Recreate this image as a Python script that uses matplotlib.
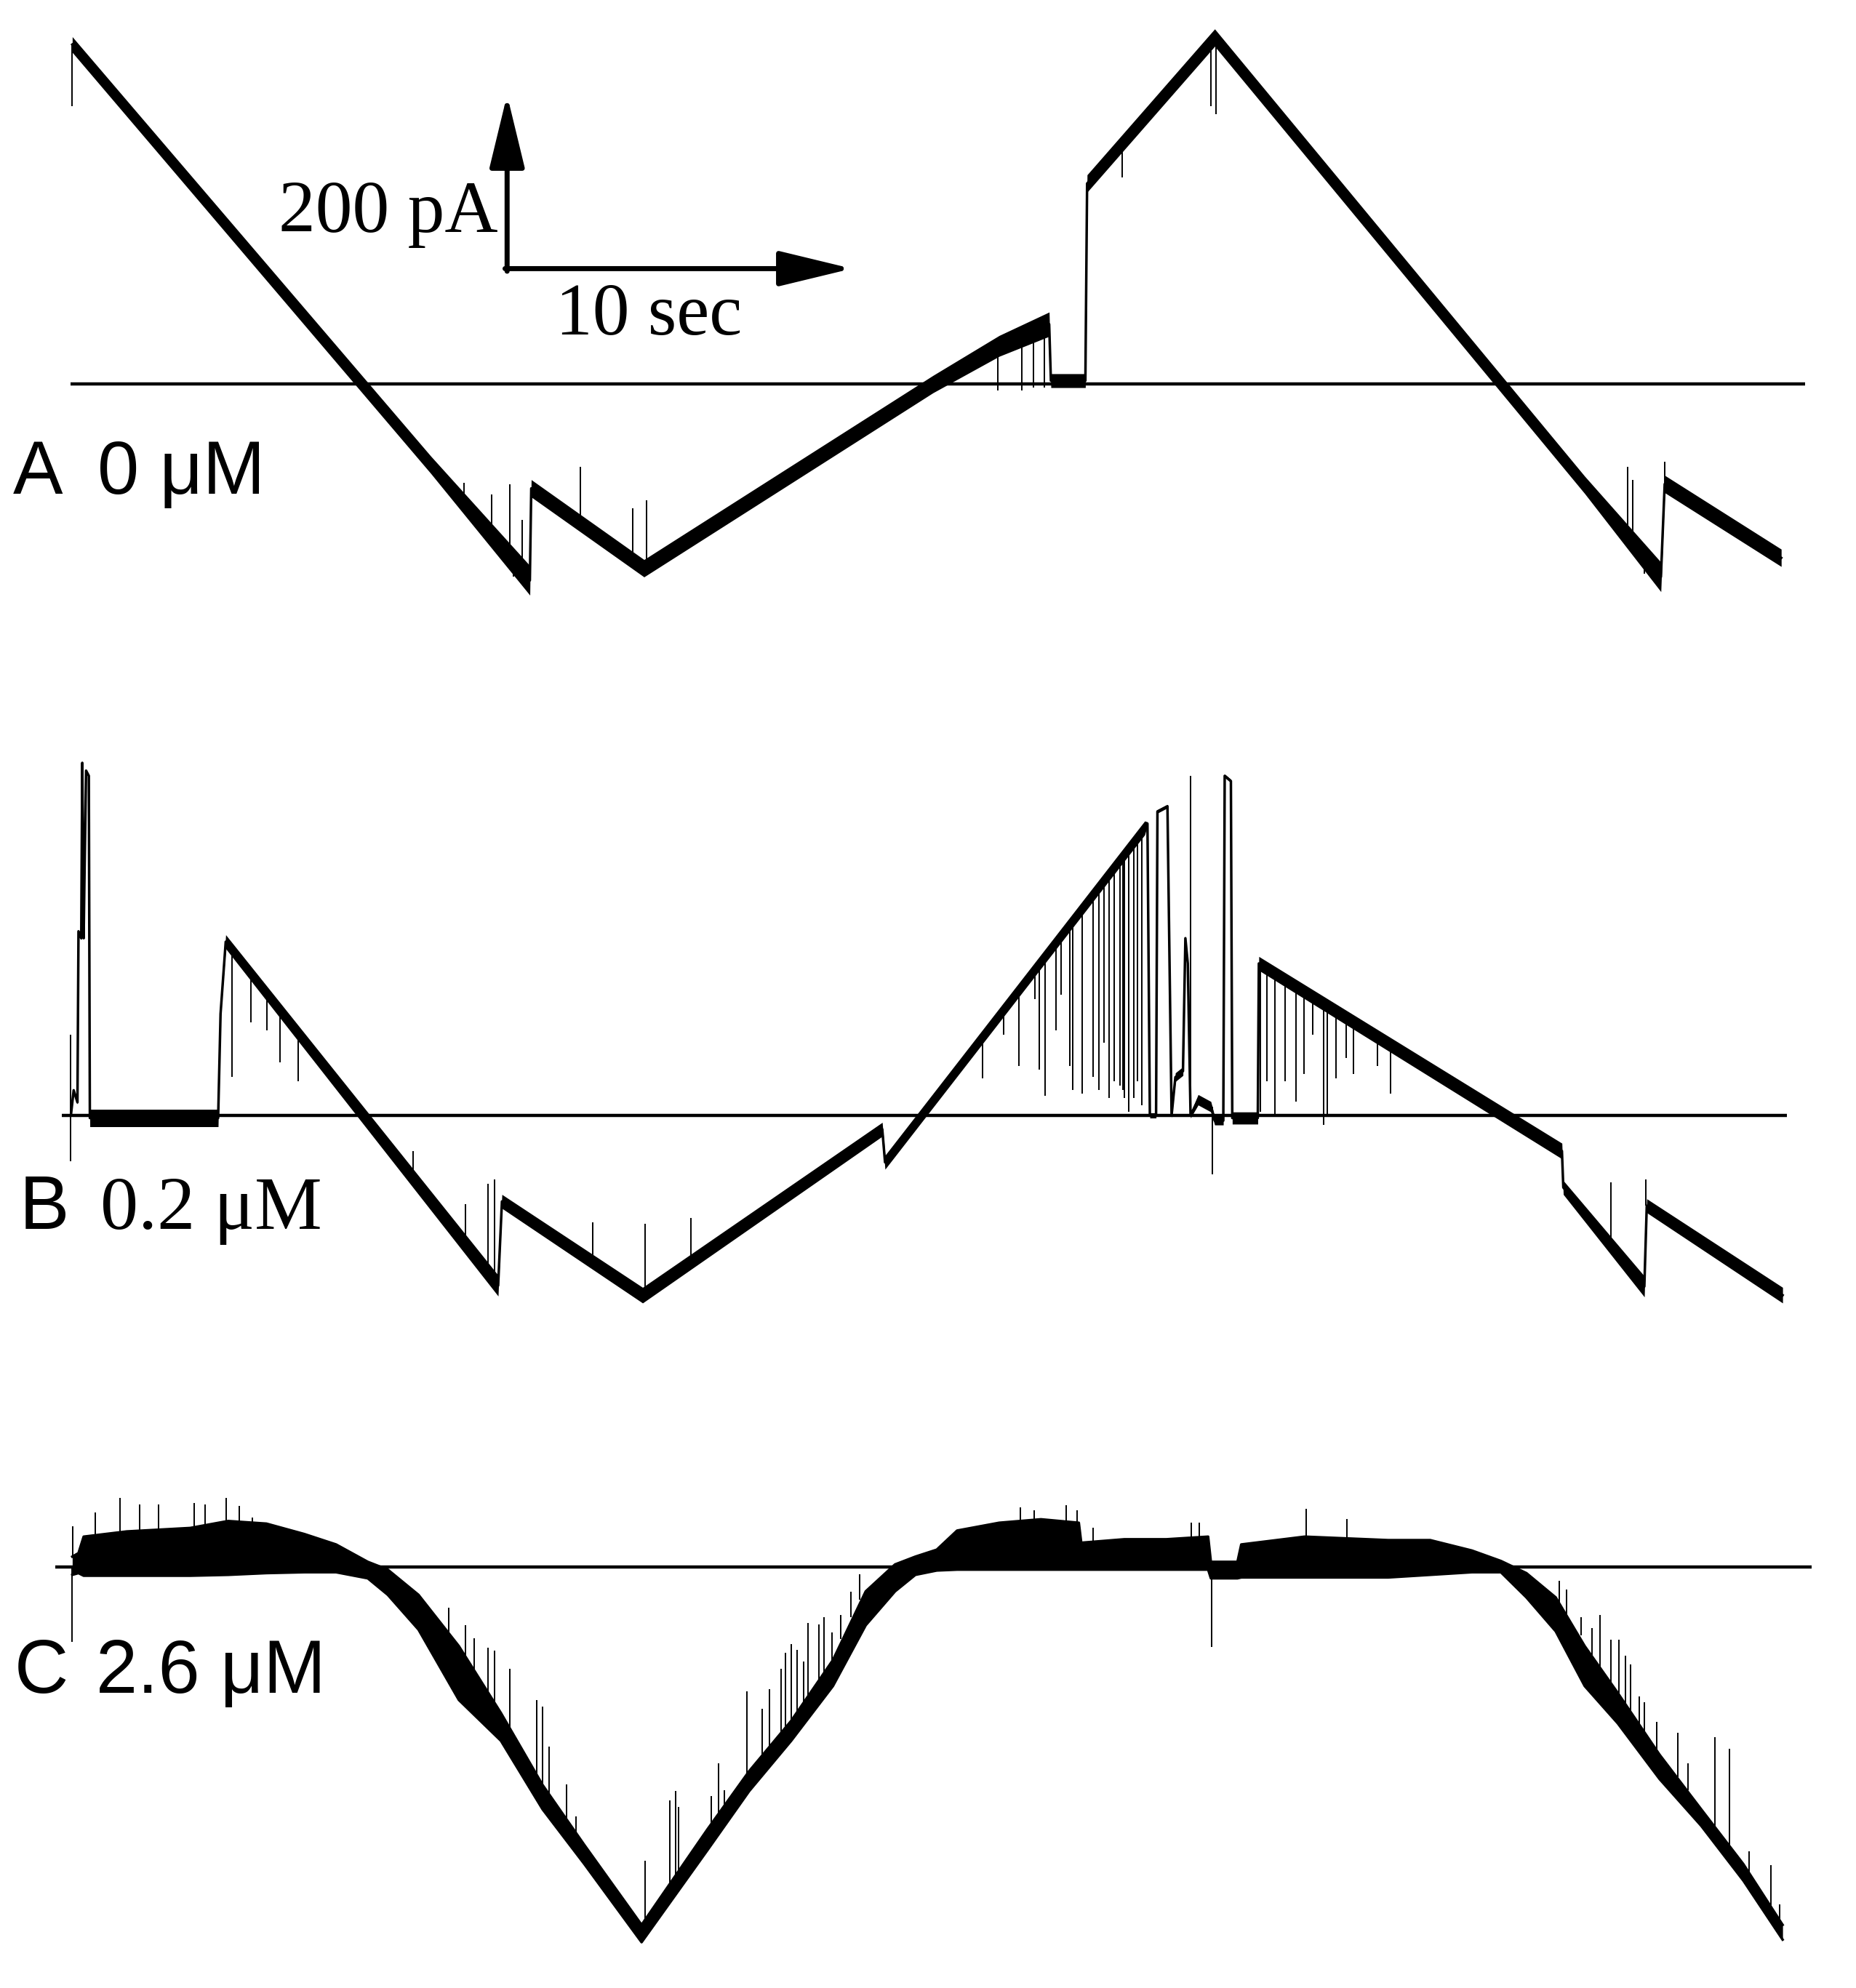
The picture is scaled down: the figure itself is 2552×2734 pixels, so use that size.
import numpy as np
import matplotlib
matplotlib.use("Agg")
import matplotlib.pyplot as plt
from matplotlib.patches import FancyArrowPatch

# time in s, current in pA (each trace relative to its own zero line)

# trace A, 0 uM
a_t = [0.00, 10.40, 13.27, 13.31, 16.58, 24.96, 26.88, 28.33, 28.38, 29.38, 29.43, 33.13, 43.86, 46.07, 46.18, 49.56]
a_i = [391, -93, -226, -120, -212, 0, 44, 69, 4, 4, 231, 399, -116, -222, -115, -200]
a_sd = [9, 10, 17, 10, 10, 10, 12, 14, 8, 8, 10, 10, 10, 17, 10, 10]

a_spk_t = [0.00, 11.36, 12.17, 12.68, 13.05, 12.79, 13.20, 14.74, 16.25, 16.65, 26.84, 27.54, 27.87,
           28.20, 30.44, 33.02, 33.16, 45.11, 45.26, 46.18, 45.60]
a_spk_from = [391, -137, -175, -199, -216, -202, -217, -160, -202, -210, 44, 55, 61,
              67, 276, 396, 397, -176, -183, -115, -204]
a_spk_to = [320, -114, -127, -115, -156, -222, -232, -95, -143, -134, -7, -7, -4,
            -4, 238, 320, 311, -95, -110, -89, -218]

# trace B, 0.2 uM
b_t = [-0.04, 0.04, 0.15, 0.18, 0.26, 0.29, 0.33, 0.35, 0.40, 0.48, 0.51, 4.23, 4.30, 4.45, 12.35,
       12.46, 16.54, 23.49, 23.57, 31.10, 31.18, 31.25, 31.43, 31.47, 31.76, 31.88, 31.99, 32.21,
       32.28, 32.35, 32.43, 32.65, 33.02, 33.13, 33.38, 33.42, 33.60, 33.64, 34.38, 34.41, 43.20,
       43.24, 45.59, 45.66, 49.60]
b_i = [0, 29, 15, 212, 204, 406, 204, 263, 397, 391, -3, -3, 117, 200, -196,
       -99, -207, -16, -54, 331, 336, 0, 0, 350, 356, 0, 44, 51,
       204, 175, 0, 18, 10, -6, -6, 391, 385, -3, -3, 175, -41,
       -83, -197, -104, -207]
b_sd = [2, 2, 2, 2, 2, 1, 1, 1, 1, 1, 10, 10, 3, 8, 12,
        8, 9, 8, 8, 8, 2, 3, 3, 2, 2, 3, 5, 5,
        3, 3, 3, 6, 6, 5, 5, 2, 2, 7, 7, 8, 9,
        8, 12, 8, 9]

b_spk_t = [-0.04, 4.63, 5.17, 5.65, 6.02, 6.56, 9.89, 11.40, 12.06, 12.24, 15.10, 16.62, 17.93,
           26.40, 27.01, 27.46, 27.92, 28.04, 28.22, 28.53, 28.68, 28.92, 29.01, 29.29, 29.60, 29.78,
           29.93, 30.06, 30.22, 30.38, 30.46, 30.52, 30.64, 30.79, 30.88, 31.01, 32.43, 33.07,
           34.46, 34.64, 34.88, 35.18, 35.49, 35.73, 35.97, 36.28, 36.40, 36.64, 36.94, 37.16,
           37.85, 38.22, 44.63, 45.64]
b_spk_from = [93, 191, 164, 140, 122, 94, -72, -147, -181, -190, -169, -205, -169,
              91, 122, 145, 169, 175, 184, 200, 207, 220, 224, 239, 255, 264,
              272, 278, 286, 294, 298, 302, 308, 315, 320, 326, 0, 10,
              174, 170, 164, 156, 149, 143, 137, 129, 126, 120, 113, 108,
              91, 82, -151, -104]
b_spk_to = [-53, 44, 107, 98, 61, 39, -41, -102, -79, -74, -123, -125, -118,
            43, 93, 57, 134, 53, 23, 98, 139, 57, 29, 25, 44, 29,
            84, 20, 39, 34, 29, 20, 4, 20, 39, 12, 391, -68,
            4, 39, 2, 39, 16, 48, 93, -11, -2, 43, 66, 48,
            57, 25, -77, -74]

# trace C, 2.6 uM (upper and lower edge of the noisy band)
c_t = [0.00, 0.18, 0.33, 1.58, 3.42, 4.52, 5.63, 6.73, 7.65, 8.57, 9.15, 10.04, 11.21, 12.43,
       13.64, 14.85, 16.51, 18.42, 19.63, 20.85, 22.06, 23.01, 23.86, 24.45, 25.07, 25.66, 26.88,
       28.09, 29.19, 29.26, 30.51, 31.73, 32.94, 33.02, 33.79, 33.90, 35.74, 38.16, 39.38, 40.59,
       41.43, 42.17, 43.02, 43.86, 44.82, 46.03, 47.24, 48.46, 49.60]
c_top = [12, 16, 35, 41, 45, 53, 50, 38, 26, 6, -3, -32, -91, -168,
         -251, -320, -412, -302, -235, -177, -107, -28, 3, 12, 20, 42, 51,
         55, 51, 28, 32, 32, 35, 6, 6, 26, 35, 31, 31, 19,
         7, -7, -35, -91, -145, -216, -279, -342, -412]
c_bot = [-9, -7, -10, -10, -10, -9, -7, -6, -6, -13, -32, -72, -153, -200,
         -279, -342, -432, -326, -258, -200, -137, -67, -28, -9, -4, -3, -3,
         -3, -3, -3, -3, -3, -3, -13, -13, -12, -12, -12, -9, -6,
         -6, -35, -74, -137, -180, -244, -298, -361, -429]

c_spk_t = [-0.01, 0.02, 0.66, 1.39, 1.95, 2.50, 3.53, 3.86, 4.47, 4.85, 5.22, 10.92, 11.40, 11.65,
           12.06, 12.24, 12.68, 13.46, 13.64, 13.82, 14.34, 14.61, 16.62, 17.32, 17.50, 17.59, 18.53,
           18.75, 18.92, 19.56, 20.00, 20.22, 20.55, 20.69, 20.85, 21.02, 21.20, 21.34, 21.65, 21.80,
           22.04, 22.28, 22.57, 22.83, 27.49, 27.90, 28.82, 29.15, 29.60, 32.46, 32.68, 33.05, 35.79,
           36.97, 43.12, 43.34, 43.75, 44.07, 44.30, 44.63, 44.85, 45.04, 45.18, 45.44, 45.60, 45.94,
           46.57, 46.85, 47.64, 48.05, 48.63, 49.27, 49.52]
c_spk_from = [0, 12, 38, 41, 42, 44, 45, 45, 53, 51, 50, -76, -102, -118,
              -145, -156, -185, -238, -251, -261, -289, -306, -406, -365, -355, -349, -296,
              -285, -275, -239, -218, -207, -191, -184, -177, -166, -156, -147, -130, -121,
              -107, -83, -58, -38, 53, 54, 53, 51, 29, 32, 34, -3, 35,
              32, -42, -57, -79, -101, -115, -134, -147, -158, -166, -181, -191, -210,
              -242, -257, -298, -320, -352, -393, -406]
c_spk_to = [-86, 47, 63, 80, 72, 72, 74, 72, 80, 70, 57, -47, -67, -82,
            -93, -96, -117, -153, -161, -207, -250, -287, -338, -269, -258, -276, -264,
            -226, -257, -143, -163, -141, -117, -99, -89, -95, -109, -64, -66, -58,
            -75, -55, -28, -8, 69, 65, 71, 65, 45, 51, 51, -92, 67,
            55, -16, -26, -58, -70, -55, -84, -84, -102, -112, -149, -156, -178,
            -191, -226, -196, -209, -327, -343, -388]

# zero lines: start/end time of each
zero_span = {"A": (-0.04, 50.26), "B": (-0.31, 49.72), "C": (-0.49, 50.44)}
offset = {"A": 0, "B": -842, "C": -1362}

fig = plt.figure(figsize=(25.52, 27.34), dpi=100)
ax = fig.add_axes([0, 0, 1, 1])
ax.set_xlim(-2.096, 51.728)
ax.set_ylim(-1846.7, 442.3)
ax.axis("off")

for key in ["A", "B", "C"]:
    ax.hlines(offset[key], zero_span[key][0], zero_span[key][1], color="k", lw=3.2)

# A and B: ramp trace with vertical noise band
for t, i, sd, off in [(a_t, a_i, a_sd, offset["A"]), (b_t, b_i, b_sd, offset["B"])]:
    t = np.array(t)
    i = np.array(i) + off
    sd = np.array(sd)
    ax.fill_between(t, i - sd, i + sd, color="k", lw=0)
    ax.plot(t, i, color="k", lw=2.5)

off = offset["C"]
ax.fill_between(c_t, np.array(c_bot) + off, np.array(c_top) + off, color="k", lw=0)
ax.plot(c_t, np.array(c_top) + off, color="k", lw=2.5)
ax.plot(c_t, np.array(c_bot) + off, color="k", lw=2.5)

for st, sf, sto, key in [(a_spk_t, a_spk_from, a_spk_to, "A"),
                         (b_spk_t, b_spk_from, b_spk_to, "B"),
                         (c_spk_t, c_spk_from, c_spk_to, "C")]:
    ax.vlines(st, np.array(sf) + offset[key], np.array(sto) + offset[key], color="k", lw=1.4)

# scale bar
style = "-|>,head_length=62,head_width=15"
ax.add_patch(FancyArrowPatch((12.61, 130), (12.61, 333), arrowstyle=style, mutation_scale=1,
                             lw=5, color="k", shrinkA=0, shrinkB=0))
ax.add_patch(FancyArrowPatch((12.55, 133), (22.61, 133), arrowstyle=style, mutation_scale=1,
                             lw=5, color="k", shrinkA=0, shrinkB=0))
ax.text(12.35, 175, "200 pA", ha="right", va="baseline", fontsize=73, family="Liberation Serif")
ax.text(16.73, 57, "10 sec", ha="center", va="baseline", fontsize=73, family="Liberation Serif")

# panel labels
ax.text(-1.73, -126, "A", fontsize=74, family="Liberation Sans", va="baseline")
ax.text(0.74, -126, "0 μM", fontsize=74, family="Liberation Sans", va="baseline")
ax.text(-1.54, -131 + offset["B"], "B", fontsize=74, family="Liberation Sans", va="baseline")
ax.text(0.81, -131 + offset["B"], "0.2 μM", fontsize=75, family="Liberation Serif", va="baseline")
ax.text(-1.67, -145 + offset["C"], "C", fontsize=74, family="Liberation Sans", va="baseline")
ax.text(0.69, -145 + offset["C"], "2.6 μM", fontsize=74, family="Liberation Sans", va="baseline")

fig.savefig("out.png", dpi=100, facecolor="white")
